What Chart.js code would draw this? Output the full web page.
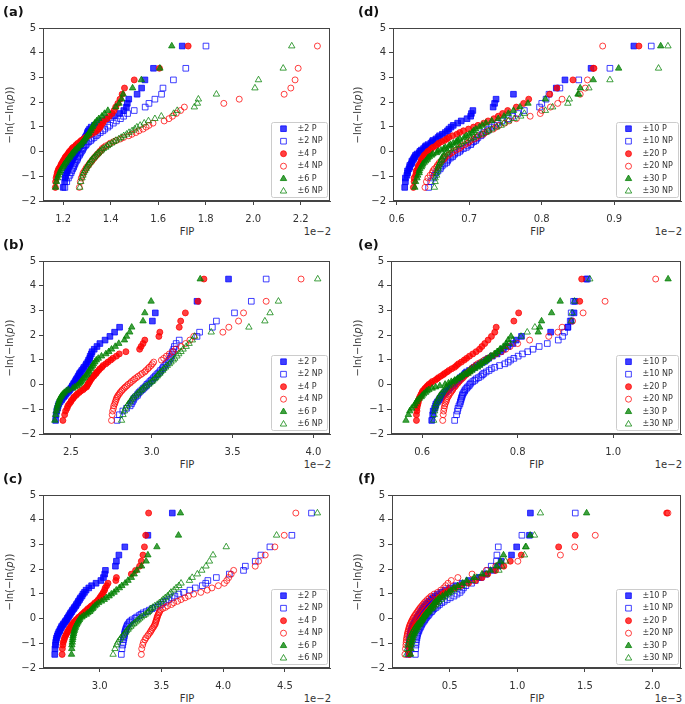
<!DOCTYPE html>
<html>
<head>
<meta charset="utf-8">
<script src="https://cdn.jsdelivr.net/npm/chart.js@4.4.1/dist/chart.umd.min.js"></script>
<style>
  body { margin: 0; background: #fff; font-family: "DejaVu Sans", sans-serif; }
  #fig { position: relative; width: 685px; height: 704px; overflow: hidden; }
  #fig canvas { position: absolute; }
  .tag { position: absolute; font-weight: bold; font-size: 13px; line-height: 13px; color: #111; }
  .ylab, .xlab, .off { position: absolute; font-size: 10px; line-height: 10px; color: #333; white-space: nowrap; }
  .ylab { transform: translate(-50%, -50%) rotate(-90deg); }
  .xlab { transform: translate(-50%, -50%); }
  .off { transform: translate(-100%, -50%); }
</style>
</head>
<body>
<div id="fig"></div>
<script>
// ---------------------------
// Data
// ---------------------------
// shared Gumbel ordinate -ln(-ln(p)) of the 50 ranked values
const gumbelY = [-1.45,-1.22,-1.07,-0.96,-0.86,-0.78,-0.70,-0.63,-0.56,-0.50,
  -0.44,-0.38,-0.32,-0.26,-0.21,-0.15,-0.10,-0.05,0.01,0.06,
  0.12,0.17,0.23,0.28,0.34,0.40,0.45,0.51,0.57,0.64,
  0.70,0.77,0.84,0.91,0.99,1.06,1.15,1.24,1.33,1.43,
  1.54,1.66,1.80,1.95,2.12,2.32,2.57,2.90,3.37,4.27];

const yTicks = [-2, -1, 0, 1, 2, 3, 4, 5];
const xTicksA = [1.2, 1.4, 1.6, 1.8, 2.0, 2.2];
const xTicksB = [2.5, 3.0, 3.5, 4.0];
const xTicksC = [3.0, 3.5, 4.0, 4.5];
const xTicksD = [0.6, 0.7, 0.8, 0.9];
const xTicksE = [0.6, 0.8, 1.0];
const xTicksF = [0.5, 1.0, 1.5, 2.0];

const labelsLow = ["±2 P", "±2 NP", "±4 P", "±4 NP", "±6 P", "±6 NP"];
const labelsHigh = ["±10 P", "±10 NP", "±20 P", "±20 NP", "±30 P", "±30 NP"];

// (a) FIP x1e-2
const aP2 = [1.200,1.206,1.209,1.210,1.215,1.217,1.221,1.222,1.227,1.230,
  1.231,1.236,1.239,1.240,1.245,1.248,1.249,1.254,1.257,1.258,
  1.263,1.267,1.270,1.273,1.279,1.283,1.285,1.290,1.293,1.297,
  1.301,1.302,1.306,1.311,1.318,1.331,1.344,1.362,1.384,1.412,
  1.438,1.455,1.466,1.470,1.476,1.511,1.530,1.544,1.580,1.701];
const aNP2 = [1.207,1.215,1.222,1.228,1.233,1.236,1.240,1.244,1.246,1.249,
  1.251,1.255,1.259,1.261,1.263,1.268,1.270,1.273,1.277,1.281,
  1.283,1.286,1.292,1.296,1.301,1.308,1.316,1.321,1.330,1.339,
  1.345,1.356,1.367,1.375,1.388,1.396,1.411,1.424,1.441,1.454,
  1.471,1.499,1.545,1.561,1.586,1.614,1.620,1.664,1.716,1.801];
const aP4 = [1.167,1.168,1.170,1.173,1.175,1.178,1.181,1.186,1.190,1.192,
  1.197,1.199,1.204,1.207,1.210,1.215,1.220,1.223,1.227,1.233,
  1.237,1.242,1.251,1.255,1.262,1.271,1.276,1.286,1.294,1.306,
  1.317,1.331,1.341,1.349,1.356,1.359,1.366,1.371,1.384,1.394,
  1.406,1.414,1.421,1.430,1.439,1.448,1.458,1.499,1.605,1.726];
const aNP4 = [1.268,1.272,1.276,1.281,1.284,1.290,1.295,1.299,1.306,1.310,
  1.314,1.321,1.324,1.331,1.334,1.341,1.344,1.351,1.354,1.361,
  1.364,1.371,1.379,1.391,1.398,1.412,1.424,1.441,1.454,1.476,
  1.489,1.506,1.519,1.536,1.549,1.561,1.578,1.625,1.645,1.660,
  1.676,1.694,1.710,1.876,1.941,2.130,2.158,2.176,2.189,2.270];
const aP6 = [1.168,1.172,1.176,1.180,1.185,1.188,1.192,1.198,1.202,1.205,
  1.211,1.214,1.219,1.225,1.227,1.232,1.237,1.240,1.246,1.250,
  1.257,1.261,1.268,1.274,1.277,1.284,1.287,1.292,1.295,1.300,
  1.306,1.309,1.315,1.318,1.323,1.326,1.333,1.341,1.350,1.363,
  1.374,1.388,1.421,1.435,1.446,1.452,1.492,1.529,1.607,1.657];
const aNP6 = [1.270,1.274,1.279,1.283,1.286,1.291,1.296,1.299,1.304,1.307,
  1.313,1.317,1.321,1.328,1.332,1.337,1.344,1.348,1.356,1.362,
  1.369,1.379,1.386,1.393,1.404,1.413,1.422,1.434,1.444,1.455,
  1.467,1.477,1.490,1.501,1.510,1.524,1.541,1.559,1.586,1.613,
  1.665,1.680,1.752,1.765,1.769,1.845,2.007,2.022,2.126,2.162];

// (b) FIP x1e-2
const bP2 = [2.405,2.408,2.412,2.417,2.421,2.425,2.433,2.441,2.447,2.455,
  2.463,2.469,2.478,2.487,2.492,2.500,2.506,2.509,2.516,2.519,
  2.526,2.530,2.535,2.541,2.545,2.551,2.554,2.561,2.567,2.576,
  2.581,2.591,2.596,2.604,2.609,2.616,2.619,2.626,2.631,2.644,
  2.661,2.679,2.711,2.741,2.770,2.801,3.004,3.022,3.280,3.475];
const bNP2 = [2.786,2.800,2.821,2.844,2.866,2.874,2.880,2.886,2.890,2.899,
  2.911,2.914,2.922,2.931,2.941,2.949,2.958,2.966,2.971,2.981,
  2.989,2.998,3.007,3.013,3.022,3.031,3.039,3.049,3.055,3.066,
  3.072,3.081,3.089,3.101,3.107,3.116,3.119,3.126,3.129,3.136,
  3.140,3.151,3.170,3.280,3.296,3.375,3.400,3.512,3.616,3.708];
const bP4 = [2.450,2.461,2.467,2.476,2.481,2.490,2.499,2.504,2.514,2.519,
  2.531,2.539,2.551,2.561,2.575,2.584,2.596,2.600,2.606,2.609,
  2.616,2.619,2.626,2.631,2.641,2.647,2.656,2.661,2.671,2.679,
  2.691,2.699,2.716,2.729,2.746,2.759,2.781,2.799,2.840,2.925,
  2.934,2.946,2.957,3.044,3.050,3.170,3.179,3.208,3.287,3.323];
const bNP4 = [2.751,2.755,2.758,2.763,2.765,2.771,2.774,2.779,2.781,2.787,
  2.791,2.799,2.804,2.813,2.819,2.829,2.836,2.846,2.854,2.866,
  2.874,2.886,2.894,2.906,2.917,2.931,2.941,2.956,2.964,2.976,
  2.984,2.996,3.004,3.012,3.060,3.074,3.091,3.109,3.131,3.149,
  3.181,3.209,3.236,3.260,3.440,3.477,3.537,3.568,3.708,3.924];
const bP6 = [2.400,2.405,2.409,2.414,2.416,2.421,2.424,2.429,2.431,2.438,
  2.442,2.451,2.459,2.471,2.484,2.511,2.524,2.538,2.547,2.556,
  2.561,2.568,2.574,2.583,2.589,2.598,2.602,2.609,2.612,2.621,
  2.626,2.634,2.639,2.648,2.657,2.669,2.689,2.716,2.734,2.751,
  2.774,2.796,2.831,2.844,2.864,2.876,2.946,2.957,2.996,3.300];
const bNP6 = [2.813,2.822,2.831,2.837,2.848,2.855,2.866,2.871,2.881,2.889,
  2.901,2.909,2.921,2.929,2.939,2.946,2.956,2.967,2.981,2.989,
  3.001,3.007,3.018,3.024,3.034,3.039,3.049,3.056,3.067,3.075,
  3.086,3.096,3.109,3.119,3.133,3.142,3.156,3.167,3.181,3.194,
  3.213,3.231,3.251,3.265,3.368,3.601,3.700,3.732,3.784,4.027];

// (c) FIP x1e-2
const cP2 = [2.635,2.637,2.641,2.643,2.647,2.650,2.656,2.661,2.667,2.675,
  2.679,2.687,2.691,2.701,2.707,2.717,2.723,2.732,2.737,2.745,
  2.751,2.759,2.764,2.773,2.779,2.789,2.795,2.805,2.811,2.821,
  2.827,2.837,2.844,2.856,2.864,2.876,2.889,2.911,2.934,2.970,
  3.009,3.030,3.040,3.046,3.127,3.135,3.155,3.203,3.390,3.588];
const cNP2 = [3.175,3.180,3.186,3.190,3.192,3.196,3.199,3.201,3.203,3.207,
  3.210,3.215,3.219,3.224,3.233,3.240,3.251,3.264,3.286,3.299,
  3.319,3.334,3.351,3.377,3.401,3.424,3.451,3.474,3.496,3.514,
  3.536,3.559,3.586,3.609,3.641,3.679,3.731,3.774,3.831,3.859,
  3.876,3.945,4.050,4.165,4.180,4.260,4.306,4.379,4.557,4.716];
const cP4 = [2.695,2.697,2.701,2.704,2.711,2.715,2.723,2.729,2.738,2.742,
  2.751,2.757,2.767,2.773,2.783,2.789,2.801,2.809,2.821,2.831,
  2.846,2.856,2.869,2.879,2.893,2.904,2.919,2.931,2.948,2.961,
  2.978,2.989,3.001,3.009,3.021,3.029,3.039,3.044,3.056,3.067,
  3.130,3.135,3.256,3.290,3.323,3.337,3.350,3.362,3.372,3.396];
const cNP4 = [3.337,3.340,3.348,3.354,3.366,3.374,3.388,3.397,3.409,3.414,
  3.423,3.429,3.439,3.444,3.451,3.452,3.457,3.459,3.464,3.465,
  3.471,3.474,3.481,3.484,3.491,3.509,3.531,3.549,3.581,3.599,
  3.631,3.659,3.691,3.719,3.761,3.819,3.871,3.909,3.961,4.010,
  4.029,4.045,4.065,4.085,4.260,4.287,4.341,4.419,4.495,4.589];
const cP6 = [2.771,2.773,2.774,2.777,2.779,2.782,2.783,2.787,2.789,2.793,
  2.796,2.801,2.804,2.811,2.815,2.823,2.827,2.835,2.840,2.856,
  2.871,2.891,2.904,2.919,2.929,2.941,2.947,2.961,2.974,2.991,
  3.014,3.036,3.054,3.076,3.094,3.116,3.134,3.159,3.179,3.206,
  3.229,3.256,3.279,3.301,3.339,3.376,3.390,3.463,3.638,3.654];
const cNP6 = [3.108,3.123,3.136,3.146,3.161,3.171,3.186,3.196,3.209,3.217,
  3.229,3.237,3.251,3.261,3.276,3.287,3.301,3.311,3.324,3.337,
  3.356,3.369,3.386,3.394,3.406,3.414,3.429,3.446,3.466,3.484,
  3.501,3.514,3.531,3.549,3.566,3.577,3.601,3.619,3.641,3.659,
  3.727,3.749,3.791,3.827,3.861,3.889,3.918,4.025,4.433,4.764];

// (d) FIP x1e-2
const dP10 = [0.611,0.612,0.612,0.614,0.615,0.615,0.617,0.618,0.618,0.620,
  0.621,0.621,0.623,0.624,0.625,0.626,0.628,0.631,0.632,0.634,
  0.637,0.639,0.640,0.643,0.647,0.649,0.650,0.654,0.657,0.659,
  0.663,0.667,0.670,0.672,0.675,0.678,0.684,0.689,0.697,0.702,
  0.703,0.705,0.733,0.735,0.737,0.761,0.820,0.832,0.868,0.927];
const dNP10 = [0.644,0.647,0.650,0.652,0.654,0.657,0.660,0.661,0.663,0.666,
  0.669,0.670,0.671,0.674,0.677,0.678,0.680,0.684,0.687,0.688,
  0.692,0.696,0.698,0.702,0.703,0.706,0.709,0.710,0.712,0.716,
  0.718,0.720,0.725,0.727,0.731,0.735,0.739,0.745,0.754,0.760,
  0.767,0.776,0.797,0.800,0.806,0.810,0.825,0.851,0.894,0.951];
const dP20 = [0.623,0.624,0.624,0.626,0.627,0.627,0.629,0.630,0.630,0.632,
  0.633,0.634,0.634,0.636,0.637,0.638,0.640,0.642,0.643,0.646,
  0.648,0.650,0.654,0.656,0.658,0.662,0.666,0.669,0.672,0.677,
  0.683,0.687,0.692,0.699,0.706,0.712,0.720,0.726,0.734,0.740,
  0.746,0.753,0.765,0.775,0.782,0.811,0.821,0.843,0.872,0.934];
const dNP20 = [0.639,0.641,0.643,0.646,0.649,0.650,0.652,0.655,0.656,0.658,
  0.659,0.662,0.665,0.666,0.667,0.671,0.673,0.676,0.678,0.682,
  0.686,0.688,0.690,0.694,0.698,0.700,0.702,0.707,0.710,0.713,
  0.719,0.722,0.726,0.733,0.737,0.741,0.749,0.755,0.765,0.784,
  0.798,0.800,0.812,0.822,0.828,0.853,0.860,0.863,0.871,0.884];
const dP30 = [0.625,0.626,0.628,0.629,0.631,0.631,0.632,0.634,0.635,0.636,
  0.638,0.640,0.642,0.643,0.645,0.648,0.650,0.655,0.657,0.661,
  0.665,0.667,0.672,0.674,0.678,0.682,0.684,0.687,0.693,0.696,
  0.700,0.704,0.706,0.709,0.714,0.718,0.723,0.731,0.740,0.748,
  0.754,0.761,0.770,0.781,0.805,0.850,0.853,0.871,0.906,0.964];
const dNP30 = [0.652,0.653,0.653,0.655,0.655,0.656,0.657,0.657,0.658,0.659,
  0.660,0.661,0.662,0.662,0.664,0.665,0.667,0.669,0.670,0.673,
  0.675,0.679,0.682,0.686,0.689,0.692,0.697,0.702,0.706,0.711,
  0.717,0.723,0.727,0.731,0.738,0.744,0.748,0.754,0.762,0.771,
  0.776,0.805,0.815,0.836,0.838,0.851,0.865,0.894,0.961,0.974];

// (e) FIP x1e-2
const eP10 = [0.620,0.622,0.623,0.626,0.628,0.629,0.632,0.635,0.637,0.640,
  0.642,0.646,0.649,0.651,0.655,0.658,0.660,0.664,0.667,0.668,
  0.672,0.676,0.678,0.680,0.684,0.688,0.690,0.693,0.699,0.705,
  0.709,0.714,0.721,0.728,0.734,0.739,0.747,0.757,0.764,0.770,
  0.780,0.790,0.797,0.808,0.869,0.905,0.912,0.918,0.920,0.944];
const eNP10 = [0.668,0.672,0.674,0.675,0.677,0.679,0.680,0.681,0.682,0.683,
  0.684,0.685,0.687,0.689,0.690,0.693,0.695,0.698,0.700,0.702,
  0.706,0.710,0.713,0.718,0.723,0.726,0.729,0.734,0.740,0.745,
  0.752,0.762,0.773,0.780,0.785,0.792,0.801,0.810,0.821,0.832,
  0.845,0.862,0.885,0.894,0.898,0.905,0.910,0.912,0.917,0.946];
const eP20 = [0.588,0.588,0.589,0.589,0.590,0.591,0.592,0.592,0.594,0.595,
  0.597,0.598,0.600,0.601,0.604,0.606,0.609,0.611,0.614,0.618,
  0.621,0.627,0.631,0.634,0.639,0.644,0.647,0.652,0.656,0.662,
  0.668,0.672,0.676,0.682,0.688,0.693,0.699,0.706,0.713,0.720,
  0.725,0.731,0.738,0.745,0.752,0.755,0.792,0.802,0.930,0.934];
const eNP20 = [0.643,0.644,0.645,0.646,0.647,0.648,0.650,0.651,0.652,0.654,
  0.656,0.657,0.660,0.662,0.664,0.665,0.668,0.670,0.672,0.675,
  0.677,0.680,0.683,0.686,0.688,0.692,0.695,0.698,0.700,0.704,
  0.707,0.712,0.716,0.723,0.730,0.737,0.746,0.755,0.766,0.775,
  0.784,0.800,0.825,0.865,0.884,0.893,0.915,0.937,0.983,1.089];
const eP30 = [0.566,0.571,0.574,0.578,0.583,0.585,0.588,0.590,0.594,0.598,
  0.600,0.603,0.607,0.610,0.614,0.621,0.628,0.637,0.648,0.655,
  0.661,0.668,0.674,0.678,0.683,0.690,0.696,0.700,0.704,0.710,
  0.716,0.720,0.724,0.731,0.735,0.739,0.746,0.753,0.758,0.763,
  0.770,0.776,0.780,0.786,0.843,0.846,0.850,0.871,0.889,1.115];
const eNP30 = [0.624,0.625,0.626,0.627,0.628,0.629,0.631,0.632,0.634,0.636,
  0.637,0.640,0.642,0.645,0.647,0.650,0.652,0.656,0.659,0.663,
  0.666,0.669,0.674,0.679,0.682,0.686,0.690,0.695,0.699,0.703,
  0.709,0.715,0.720,0.725,0.732,0.738,0.743,0.751,0.757,0.764,
  0.774,0.782,0.790,0.807,0.820,0.836,0.912,0.914,0.919,0.951];

// (f) FIP x1e-3
const fP10 = [0.195,0.197,0.198,0.200,0.203,0.204,0.206,0.209,0.210,0.213,
  0.217,0.220,0.224,0.228,0.234,0.240,0.244,0.250,0.257,0.262,
  0.267,0.275,0.280,0.287,0.293,0.299,0.309,0.316,0.324,0.337,
  0.347,0.361,0.374,0.391,0.409,0.436,0.464,0.501,0.544,0.591,
  0.640,0.719,0.771,0.819,0.860,0.880,0.957,0.995,1.090,1.097];
const fNP10 = [0.245,0.247,0.250,0.251,0.253,0.257,0.259,0.261,0.266,0.271,
  0.274,0.280,0.286,0.290,0.295,0.302,0.309,0.315,0.321,0.330,
  0.339,0.346,0.354,0.365,0.374,0.384,0.398,0.410,0.424,0.441,
  0.459,0.481,0.504,0.531,0.554,0.576,0.589,0.601,0.619,0.661,
  0.689,0.731,0.764,0.781,0.807,0.846,0.849,0.859,1.034,1.429];
const fP20 = [0.200,0.203,0.204,0.207,0.211,0.213,0.216,0.222,0.226,0.229,
  0.236,0.241,0.247,0.256,0.262,0.269,0.279,0.286,0.293,0.301,
  0.308,0.314,0.324,0.331,0.339,0.351,0.359,0.371,0.379,0.391,
  0.400,0.409,0.421,0.434,0.451,0.469,0.501,0.539,0.581,0.639,
  0.691,0.739,0.781,0.839,0.900,0.948,1.029,1.306,1.429,2.106];
const fNP20 = [0.168,0.172,0.175,0.177,0.179,0.181,0.184,0.186,0.189,0.192,
  0.195,0.198,0.201,0.205,0.209,0.214,0.218,0.223,0.228,0.234,
  0.240,0.247,0.254,0.261,0.268,0.276,0.283,0.292,0.301,0.311,
  0.322,0.334,0.348,0.362,0.384,0.410,0.433,0.455,0.470,0.487,
  0.511,0.560,0.665,0.770,0.840,1.004,1.319,1.425,1.577,2.115];
const fP30 = [0.210,0.213,0.215,0.219,0.223,0.226,0.229,0.236,0.240,0.245,
  0.253,0.258,0.264,0.273,0.279,0.284,0.291,0.296,0.301,0.305,
  0.311,0.321,0.327,0.337,0.344,0.355,0.361,0.371,0.377,0.388,
  0.396,0.411,0.424,0.446,0.469,0.491,0.509,0.531,0.559,0.596,
  0.625,0.681,0.739,0.801,0.845,0.875,0.898,1.061,1.095,1.513];
const fNP30 = [0.180,0.186,0.191,0.197,0.203,0.207,0.211,0.218,0.225,0.230,
  0.235,0.243,0.251,0.258,0.265,0.276,0.283,0.291,0.300,0.309,
  0.316,0.324,0.336,0.345,0.354,0.366,0.375,0.385,0.398,0.408,
  0.419,0.436,0.450,0.466,0.486,0.505,0.529,0.561,0.590,0.624,
  0.666,0.700,0.770,0.864,0.886,0.913,1.053,1.065,1.127,1.171];

// ---------------------------
// Layout and styles
// ---------------------------
const panels = [
  { tag: "(a)", box: [43, 28, 331, 201], xMin: 1.115, xMax: 2.323, xTicks: xTicksA, labels: labelsLow, off: "1e\u22122", series: [aP2, aNP2, aP4, aNP4, aP6, aNP6] },
  { tag: "(b)", box: [43, 261, 331, 434], xMin: 2.327, xMax: 4.103, xTicks: xTicksB, labels: labelsLow, off: "1e\u22122", series: [bP2, bNP2, bP4, bNP4, bP6, bNP6] },
  { tag: "(c)", box: [43, 495, 331, 668], xMin: 2.540, xMax: 4.866, xTicks: xTicksC, labels: labelsLow, off: "1e\u22122", series: [cP2, cNP2, cP4, cNP4, cP6, cNP6] },
  { tag: "(d)", box: [393, 28, 682, 201], xMin: 0.5949, xMax: 0.992, xTicks: xTicksD, labels: labelsHigh, off: "1e\u22122", series: [dP10, dNP10, dP20, dNP20, dP30, dNP30] },
  { tag: "(e)", box: [391, 261, 682, 434], xMin: 0.5347, xMax: 1.142, xTicks: xTicksE, labels: labelsHigh, off: "1e\u22122", series: [eP10, eNP10, eP20, eNP20, eP30, eNP30] },
  { tag: "(f)", box: [392, 495, 682, 668], xMin: 0.0723, xMax: 2.2117, xTicks: xTicksF, labels: labelsHigh, off: "1e\u22123", series: [fP10, fNP10, fP20, fNP20, fP30, fNP30] }
];

const BLUE = "rgba(0,0,255,0.75)", RED = "rgba(255,0,0,0.75)", GREEN = "rgba(0,128,0,0.75)";
const markers = [
  { shape: "rect", color: BLUE, fill: true, r: 4 },
  { shape: "rect", color: BLUE, fill: false, r: 4 },
  { shape: "circle", color: RED, fill: true, r: 3 },
  { shape: "circle", color: RED, fill: false, r: 3 },
  { shape: "triangle", color: GREEN, fill: true, r: 3.7 },
  { shape: "triangle", color: GREEN, fill: false, r: 3.7 }
];

const PAD_L = 40, PAD_T = 10, PAD_R = 4, PAD_B = 24;
const AXIS = "#444", TEXT = "#333";
const FONT = { family: "'DejaVu Sans', sans-serif", size: 10 };

function minusFmt(v) {
  return v < 0 ? "\u2212" + Math.abs(v) : String(v);
}

function drawMarker(ctx, m, x, y) {
  ctx.beginPath();
  if (m.shape === "rect") {
    const s = m.r * Math.SQRT1_2;
    ctx.rect(x - s, y - s, 2 * s, 2 * s);
  } else if (m.shape === "circle") {
    ctx.arc(x, y, m.r, 0, Math.PI * 2);
  } else {
    for (let k = 0; k < 3; k++) {
      const a = k * 2 * Math.PI / 3;
      ctx.lineTo(x + Math.sin(a) * m.r, y - Math.cos(a) * m.r);
    }
    ctx.closePath();
  }
  if (m.fill) { ctx.fillStyle = m.color; ctx.fill(); }
  ctx.lineWidth = 1;
  ctx.strokeStyle = m.color;
  ctx.stroke();
}

// frame round the plot area (top and right spines too)
const frame = {
  id: "frame",
  afterDraw(chart) {
    const { ctx, chartArea: a } = chart;
    ctx.save();
    ctx.strokeStyle = AXIS;
    ctx.lineWidth = 1;
    ctx.strokeRect(Math.round(a.left) + 0.5, Math.round(a.top) + 0.5,
      Math.round(a.right - a.left) - 1, Math.round(a.bottom - a.top) - 1);
    ctx.restore();
  }
};

// legend box in the lower right corner of each panel
const legendBox = {
  id: "legendBox",
  afterDraw(chart, args, opts) {
    const { ctx, chartArea: a } = chart;
    const w = opts.width, h = 75;
    const x0 = Math.round(a.right - 3 - w) + 0.5, y0 = Math.round(a.bottom - 4 - h) + 0.5;
    ctx.save();
    ctx.beginPath();
    ctx.roundRect(x0, y0, w, h, 2);
    ctx.fillStyle = "rgba(255,255,255,0.8)";
    ctx.fill();
    ctx.strokeStyle = "#cccccc";
    ctx.lineWidth = 1;
    ctx.stroke();
    opts.labels.forEach((t, k) => {
      const cy = y0 + 6.2 + k * 12.5;
      drawMarker(ctx, markers[k], x0 + 12, cy);
      ctx.fillStyle = TEXT;
      ctx.font = "8px 'DejaVu Sans', sans-serif";
      ctx.textBaseline = "middle";
      ctx.fillText(t, x0 + 26, cy);
    });
    ctx.restore();
  }
};

// ---------------------------
// Build the six panels
// ---------------------------
const fig = document.getElementById("fig");

function addText(cls, html, x, y) {
  const d = document.createElement("div");
  d.className = cls;
  d.innerHTML = html;
  d.style.left = x + "px";
  d.style.top = y + "px";
  fig.appendChild(d);
}

panels.forEach((p, idx) => {
  const [L, T, R, B] = p.box;
  const cv = document.createElement("canvas");
  cv.width = R - L + PAD_L + PAD_R;
  cv.height = B - T + PAD_T + PAD_B;
  cv.style.left = (L - PAD_L) + "px";
  cv.style.top = (T - PAD_T) + "px";
  fig.appendChild(cv);

  const datasets = p.series.map((xs, k) => {
    const m = markers[k];
    return {
      label: p.labels[k],
      data: xs.map((x, i) => ({ x: x, y: gumbelY[i] })),
      pointStyle: m.shape,
      pointRadius: m.r,
      pointBorderWidth: 1,
      borderColor: m.color,
      backgroundColor: m.fill ? m.color : "rgba(0,0,0,0)",
      showLine: false,
      order: 5 - k
    };
  });

  new Chart(cv, {
    type: "scatter",
    data: { datasets: datasets },
    plugins: [frame, legendBox],
    options: {
      responsive: false,
      animation: false,
      events: [],
      layout: { padding: { top: PAD_T, right: PAD_R, left: 0, bottom: 0 } },
      plugins: {
        legend: { display: false },
        tooltip: { enabled: false },
        legendBox: { labels: p.labels, width: idx < 3 ? 56 : 62 }
      },
      scales: {
        x: {
          type: "linear", min: p.xMin, max: p.xMax,
          afterFit: s => { s.height = PAD_B; },
          afterBuildTicks: s => { s.ticks = p.xTicks.map(v => ({ value: v })); },
          grid: { drawOnChartArea: false, drawTicks: true, tickLength: 4, tickColor: AXIS, color: AXIS },
          border: { display: true, color: AXIS },
          ticks: { color: TEXT, font: FONT, padding: 8, maxRotation: 0, callback: v => v.toFixed(1) }
        },
        y: {
          type: "linear", min: -2, max: 5,
          afterFit: s => { s.width = PAD_L; },
          afterBuildTicks: s => { s.ticks = yTicks.map(v => ({ value: v })); },
          grid: { drawOnChartArea: false, drawTicks: true, tickLength: 4, tickColor: AXIS, color: AXIS },
          border: { display: true, color: AXIS },
          ticks: { color: TEXT, font: FONT, padding: 3, callback: v => minusFmt(v) }
        }
      }
    }
  });

  const col2 = idx >= 3;
  addText("tag", p.tag, col2 ? 358 : 3, T - 23);
  addText("ylab", "\u2212ln(\u2212ln(<i>p</i>))", col2 ? 357.5 : 9.5, (T + B) / 2);
  addText("xlab", "FIP", (L + R) / 2, B + 30.5);
  addText("off", p.off, R, B + 30.5);
});
</script>
</body>
</html>
